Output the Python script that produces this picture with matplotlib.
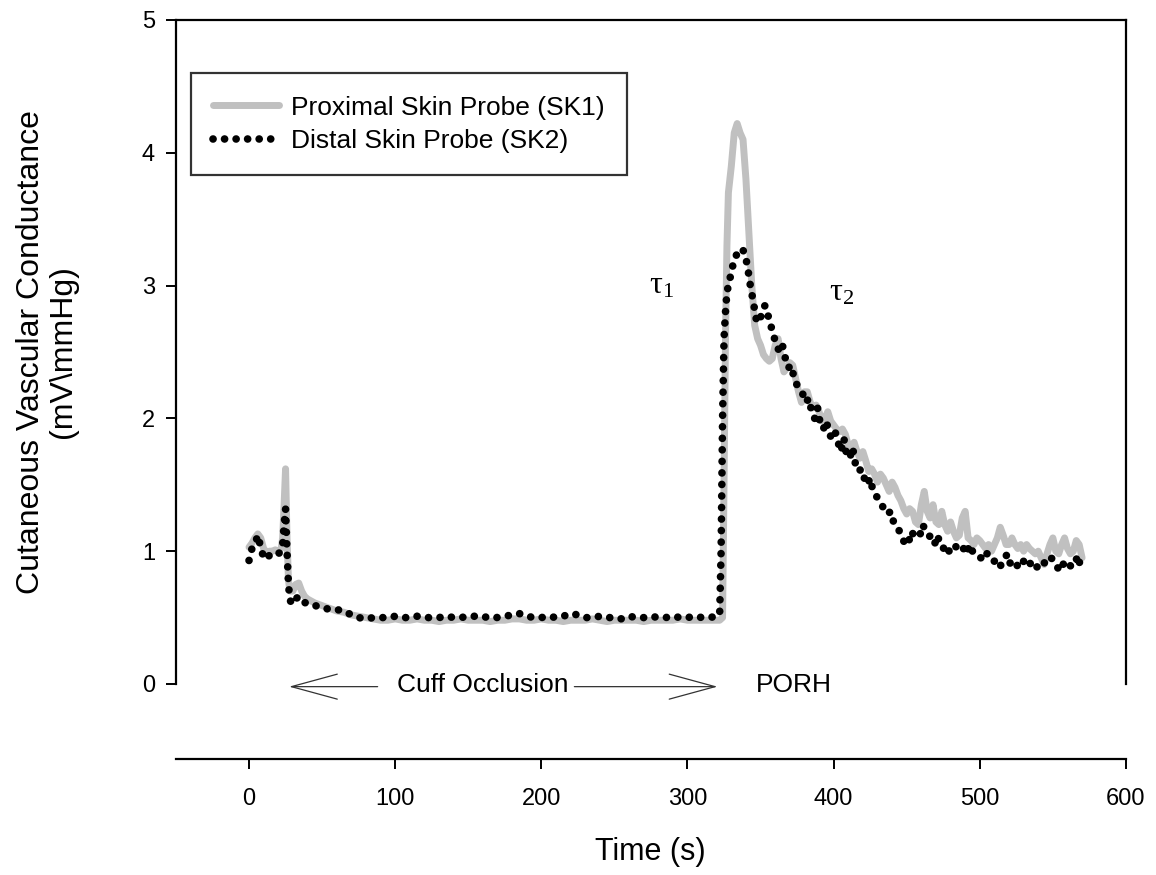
import numpy as np
import matplotlib
matplotlib.use("Agg")
import matplotlib.pyplot as plt

plt.rcParams['font.family'] = ['Liberation Sans', 'DejaVu Sans']
plt.rcParams['mathtext.fontset'] = 'custom'
plt.rcParams['mathtext.rm'] = 'Liberation Serif'
plt.rcParams['mathtext.it'] = 'Liberation Serif:italic'

# ---------------- data ----------------
# Proximal skin probe (SK1) - grey line
sk1_t = [0, 2, 4, 6, 8, 10, 12, 14, 16, 18, 20, 22, 23, 24, 25, 26, 27, 28, 30, 32,
         34, 36, 38, 40, 45, 50, 55, 60, 65, 70, 75, 80, 85, 90,
         95, 100, 105, 110, 115, 120, 125, 130, 135, 140, 145, 150, 155, 160, 165, 170,
         175, 180, 185, 190, 195, 200, 205, 210, 215, 220, 225, 230, 235, 240, 245, 250,
         255, 260, 265, 270, 275, 280, 285, 290, 295, 300, 305, 310, 315, 320,
         322, 324, 325, 326, 327, 328, 330, 332, 334, 336, 338, 340, 342, 344, 346, 348,
         350, 352, 354, 356, 358, 360, 362, 364, 366, 368, 370, 372, 374, 376, 378, 380,
         382, 384, 386, 388, 390, 392, 394, 396, 398, 400, 402, 404, 406, 408, 410, 412,
         414, 416, 418, 420, 422, 424, 426, 428, 430, 432, 434, 436, 438, 440, 442, 444,
         446, 448, 450, 452, 454, 456, 458, 460, 462, 464, 466, 468, 470, 472, 474, 476,
         478, 480, 482, 484, 486, 488, 490, 492, 494, 496, 498, 500, 502, 504, 506, 508,
         510, 512, 514, 516, 518, 520, 522, 524, 526, 528, 530, 532, 534, 536, 538, 540,
         542, 544, 546, 548, 550, 552, 554, 556, 558, 560, 562, 564, 566, 568, 570]
sk1_v = [1.03, 1.06, 1.10, 1.13, 1.10, 1.02, 0.99, 1.00, 1.00, 1.01, 1.00, 1.02, 1.10, 1.35, 1.62, 1.10, 0.78, 0.70, 0.70, 0.75,
         0.76, 0.70, 0.66, 0.64, 0.61, 0.59, 0.57, 0.55, 0.54, 0.52, 0.51, 0.50, 0.49, 0.48,
         0.48, 0.49, 0.48, 0.48, 0.49, 0.48, 0.48, 0.47, 0.48, 0.48, 0.49, 0.48, 0.48, 0.48, 0.47, 0.48,
         0.48, 0.49, 0.49, 0.48, 0.48, 0.49, 0.48, 0.48, 0.47, 0.48, 0.48, 0.48, 0.49, 0.48, 0.47, 0.48,
         0.48, 0.48, 0.48, 0.47, 0.48, 0.48, 0.48, 0.48, 0.49, 0.48, 0.48, 0.48, 0.48, 0.48,
         0.48, 0.50, 1.50, 2.60, 3.30, 3.70, 3.90, 4.15, 4.22, 4.15, 4.10, 3.80, 3.40, 3.00, 2.70, 2.60,
         2.55, 2.48, 2.45, 2.43, 2.45, 2.55, 2.60, 2.45, 2.35, 2.38, 2.42, 2.40, 2.30, 2.20, 2.12, 2.20,
         2.20, 2.12, 2.08, 2.10, 2.05, 1.98, 2.00, 2.05, 1.98, 1.95, 1.92, 1.90, 1.92, 1.88, 1.80, 1.78,
         1.82, 1.75, 1.70, 1.75, 1.68, 1.60, 1.62, 1.58, 1.52, 1.58, 1.55, 1.50, 1.45, 1.52, 1.48, 1.42,
         1.38, 1.32, 1.28, 1.32, 1.30, 1.22, 1.20, 1.35, 1.45, 1.30, 1.25, 1.35, 1.22, 1.20, 1.30, 1.20,
         1.15, 1.22, 1.15, 1.10, 1.12, 1.25, 1.30, 1.10, 1.08, 1.05, 1.10, 1.08, 1.05, 1.02, 1.05, 1.00,
         1.05, 1.10, 1.18, 1.12, 1.05, 1.05, 1.10, 1.05, 1.02, 1.05, 1.00, 1.05, 1.02, 1.00, 0.98, 1.00,
         0.95, 0.90, 0.98, 1.05, 1.10, 1.00, 0.98, 1.05, 1.10, 1.02, 0.98, 1.00, 1.08, 1.05, 0.95]

# Distal skin probe (SK2) - dotted
sk2_t = [0, 2, 4, 6, 8, 10, 12, 14, 16, 18, 20, 22, 23, 24, 25, 26, 27, 28, 30, 32,
         34, 36, 40, 45, 50, 55, 60, 65, 70, 75, 80, 85, 90,
         95, 100, 105, 110, 115, 120, 125, 130, 135, 140, 145, 150, 155, 160, 165, 170,
         175, 180, 185, 190, 195, 200, 205, 210, 215, 220, 225, 230, 235, 240, 245, 250,
         255, 260, 265, 270, 275, 280, 285, 290, 295, 300, 305, 310, 315, 320,
         322, 323, 324, 325, 326, 327, 329, 331, 333, 335, 337, 339, 341, 343, 345, 347,
         349, 351, 353, 355, 357, 359, 361, 363, 365, 367, 369, 371, 373, 375, 377, 379,
         381, 383, 385, 387, 389, 391, 393, 395, 397, 399, 401, 403, 405, 407, 409, 411,
         413, 415, 417, 419, 421, 423, 425, 427, 429, 431, 433, 435, 437, 439, 441, 443,
         445, 447, 449, 451, 453, 455, 457, 459, 461, 463, 465, 467, 469, 471, 473, 475,
         477, 479, 481, 483, 485, 487, 489, 491, 493, 495, 497, 499, 501, 503, 505, 507,
         509, 511, 513, 515, 517, 519, 521, 523, 525, 527, 529, 531, 533, 535, 537, 539,
         541, 543, 545, 547, 549, 551, 553, 555, 557, 559, 561, 563, 565, 567, 569, 570]
sk2_v = [0.93, 1.02, 1.05, 1.12, 1.03, 0.95, 0.94, 0.97, 0.98, 0.97, 0.98, 1.00, 1.05, 1.20, 1.32, 1.00, 0.75, 0.63, 0.60, 0.64,
         0.66, 0.63, 0.60, 0.59, 0.58, 0.56, 0.56, 0.55, 0.52, 0.50, 0.49, 0.50, 0.50,
         0.50, 0.51, 0.50, 0.50, 0.51, 0.50, 0.50, 0.50, 0.51, 0.50, 0.50, 0.51, 0.51, 0.50, 0.51, 0.50,
         0.51, 0.52, 0.53, 0.51, 0.50, 0.50, 0.51, 0.50, 0.51, 0.53, 0.52, 0.50, 0.50, 0.51, 0.50, 0.50,
         0.49, 0.51, 0.50, 0.50, 0.51, 0.50, 0.50, 0.51, 0.50, 0.50, 0.51, 0.50, 0.50, 0.51,
         0.52, 1.00, 2.00, 2.60, 2.80, 2.95, 3.05, 3.15, 3.22, 3.26, 3.28, 3.25, 3.15, 3.00, 2.88, 2.75,
         2.72, 2.80, 2.85, 2.78, 2.70, 2.62, 2.55, 2.50, 2.55, 2.45, 2.38, 2.40, 2.30, 2.25, 2.22, 2.18,
         2.12, 2.15, 2.05, 2.00, 2.08, 1.95, 1.92, 1.98, 1.88, 1.85, 1.90, 1.82, 1.75, 1.85, 1.72, 1.70,
         1.78, 1.65, 1.60, 1.62, 1.55, 1.50, 1.55, 1.45, 1.42, 1.38, 1.35, 1.30, 1.28, 1.30, 1.22, 1.20,
         1.15, 1.10, 1.05, 1.05, 1.15, 1.12, 1.10, 1.12, 1.20, 1.15, 1.12, 1.10, 1.05, 1.12, 1.05, 1.02,
         1.05, 1.00, 1.02, 1.05, 1.00, 1.00, 1.02, 0.98, 1.05, 1.00, 0.98, 0.95, 0.95, 1.00, 0.98, 0.95,
         0.92, 0.93, 0.88, 0.90, 0.95, 0.98, 0.90, 0.87, 0.88, 0.92, 0.90, 0.95, 0.93, 0.90, 0.92, 0.88,
         0.90, 0.93, 0.90, 0.92, 0.95, 0.90, 0.88, 0.85, 0.90, 0.93, 0.90, 0.88, 0.90, 0.97, 0.88, 0.87]

x_ticks = [0, 100, 200, 300, 400, 500, 600]
y_ticks = [0, 1, 2, 3, 4, 5]
series_labels = ['Proximal Skin Probe (SK1)', 'Distal Skin Probe (SK2)']

# ---------------- figure ----------------
fig = plt.figure(figsize=(11.56, 8.75), dpi=100)
ax = fig.add_axes([0.1522, 0.2183, 0.8218, 0.7589])

ax.plot(sk1_t, sk1_v, color='#c0c0c0', lw=5, solid_capstyle='round',
        solid_joinstyle='round', label=series_labels[0], zorder=2)
ax.plot(sk2_t, sk2_v, color='black', lw=5.5, linestyle=(0, (0.01, 1.5)),
        dash_capstyle='round', label=series_labels[1], zorder=3)

ax.set_xlim(-50, 600)
ax.set_ylim(0, 5)
ax.set_xticks(x_ticks)
ax.set_yticks(y_ticks)
ax.set_xticklabels([str(v) for v in x_ticks])
ax.set_yticklabels([str(v) for v in y_ticks])

for s in ['left', 'top', 'right', 'bottom']:
    ax.spines[s].set_linewidth(1.6)
ax.spines['bottom'].set_position(('outward', 54))

ax.tick_params(axis='both', direction='out', length=7, width=1.4,
               labelsize=17, colors='black')
ax.tick_params(axis='x', pad=14)
ax.tick_params(axis='y', pad=8)

ax.set_xlabel('Time (s)', fontsize=22)
ax.xaxis.set_label_coords(0.499, -0.230)
ax.set_ylabel('Cutaneous Vascular Conductance\n(mV\\mmHg)', fontsize=23,
              multialignment='center', linespacing=1.1)
ax.yaxis.set_label_coords(-0.103, 0.5)

leg = ax.legend(loc='upper left', bbox_to_anchor=(0.0158, 0.920), borderaxespad=0,
                fontsize=19, frameon=True, fancybox=False, handlelength=2.5,
                handletextpad=0.45, labelspacing=0.35, borderpad=0.85)
leg.get_frame().set_edgecolor('black')
leg.get_frame().set_linewidth(1.6)

# annotations
ax.text(274, 3.0, r'$\mathrm{\tau}_\mathrm{1}$', fontsize=23, ha='left', va='center')
ax.text(397, 2.95, r'$\mathrm{\tau}_\mathrm{2}$', fontsize=23, ha='left', va='center')
ax.text(160, -0.01, 'Cuff Occlusion', fontsize=19, ha='center', va='center')
ax.text(373, -0.01, 'PORH', fontsize=19, ha='center', va='center')
arrow_kw = dict(arrowstyle='->,head_length=33,head_width=9', mutation_scale=1,
                lw=0.9, color='#333333', shrinkA=0, shrinkB=0)
ax.annotate('', xy=(27.4, -0.02), xytext=(88, -0.02), arrowprops=arrow_kw,
            annotation_clip=False)
ax.annotate('', xy=(320.5, -0.02), xytext=(222.6, -0.02), arrowprops=arrow_kw,
            annotation_clip=False)

fig.savefig('out.png', dpi=100)
